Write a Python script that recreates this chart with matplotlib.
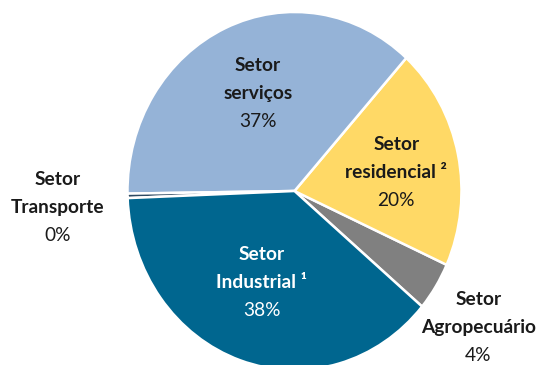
import matplotlib.pyplot as plt

# sector shares (%), counter-clockwise from the agro wedge
sectors = ['Setor\nAgropecuário', 'Setor\nresidencial ²', 'Setor\nserviços',
           'Setor\nTransporte', 'Setor\nIndustrial ¹']
shares = [4.4, 20.1, 36.9, 0.4, 38.2]
colors = ['#808080', '#FFD966', '#95B3D7', '#2E4A62', '#00668F']
text_colors = ['#1a1a1a', '#1a1a1a', '#1a1a1a', '#1a1a1a', 'white']

# label anchors in pie units (middle line of each label)
label_xy = [(1.10, -0.76), (0.61, 0.106), (-0.22, 0.545), (-1.42, -0.09), (-0.195, -0.51)]

plt.rcParams['font.family'] = ['Lato', 'DejaVu Sans']

W, H = 539, 365
fig = plt.figure(figsize=(W / 100, H / 100), dpi=100)
cx, cy, rx, ry = 294.5, 191, 167, 179
ax = fig.add_axes([(cx - rx) / W, (H - cy - ry) / H, 2 * rx / W, 2 * ry / H])

ax.pie(shares, colors=colors, startangle=-40.2, counterclock=True,
       wedgeprops=dict(edgecolor='white', linewidth=1.8))
ax.set_aspect('auto')
ax.set_xlim(-1, 1)
ax.set_ylim(-1, 1)

fs = 13.8
for name, val, (x, y), tc in zip(sectors, shares, label_xy, text_colors):
    first, second = name.split('\n')
    ax.annotate(first, (x, y), xytext=(0, 28), textcoords='offset pixels',
                ha='center', va='center', fontsize=fs, fontweight='bold', color=tc,
                annotation_clip=False)
    ax.annotate(second, (x, y), ha='center', va='center', fontsize=fs,
                fontweight='bold', color=tc, annotation_clip=False)
    ax.annotate('%.0f%%' % val, (x, y), xytext=(0, -28), textcoords='offset pixels',
                ha='center', va='center', fontsize=fs, color=tc,
                annotation_clip=False)

plt.savefig('out.png', dpi=100)
